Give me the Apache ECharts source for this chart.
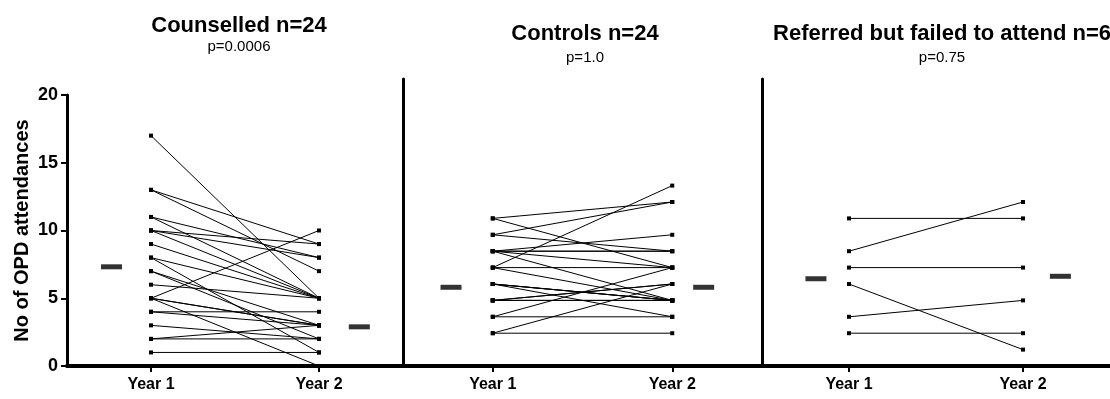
<!DOCTYPE html>
<html>
<head>
<meta charset="utf-8">
<script src="https://cdn.jsdelivr.net/npm/echarts@6/dist/echarts.min.js"></script>
<style>
  html, body { margin: 0; padding: 0; background: #fff; }
  #chart { width: 1110px; height: 399px; }
</style>
</head>
<body>
<div id="chart"></div>
<script>
// Paired attendance counts, one entry per patient (Year 1 -> Year 2)
const yearLabels = ['Year 1', 'Year 2'];
const panelTitles = ['Counselled n=24', 'Controls n=24', 'Referred but failed to attend n=6'];
const panelPValues = ['p=0.0006', 'p=1.0', 'p=0.75'];
const yAxisName = 'No of OPD attendances';
const yTickValues = [0, 5, 10, 15, 20];

const counselledYear1 = [17, 13, 13, 11, 11, 10, 10, 10, 9, 8, 8, 7, 7, 6, 5, 5, 5, 5, 4, 4, 3, 2, 2, 1];
const counselledYear2 = [5, 9, 7, 8, 5, 9, 8, 5, 5, 5, 1, 3, 2, 5, 10, 3, 3, 0, 4, 3, 2, 3, 2, 1];

const controlsYear1 = [9, 9, 8, 8, 7, 7, 7, 7, 7, 6, 6, 6, 5, 5, 5, 5, 4, 4, 4, 4, 3, 3, 2, 2];
const controlsYear2 = [10, 6, 10, 7, 8, 7, 7, 6, 4, 11, 6, 4, 4, 4, 4, 3, 5, 5, 4, 4, 6, 3, 5, 2];

const referredYear1 = [9, 7, 6, 5, 3, 2];
const referredYear2 = [9, 10, 6, 1, 4, 2];

// Group centre values shown as short bars beside each column
const centreYear1 = [7.32, 4.8, 5.32];
const centreYear2 = [2.89, 4.8, 5.47];

const panels = [
  { y1: counselledYear1, y2: counselledYear2 },
  { y1: controlsYear1, y2: controlsYear2 },
  { y1: referredYear1, y2: referredYear2 }
];

// Layout of the three panels
const grids = [
  { left: 67, top: 95, width: 336, bottom: 33 },
  { left: 403, top: 79, width: 359, bottom: 33 },
  { left: 762, top: 79, width: 348, bottom: 33 }
];
const yMax = [20, 17.5, 17.5];
const xYear = [1, 3];
const centreX = [[0.53, 3.48], [0.535, 3.35], [0.62, 3.43]];
const titlePos = [{ x: 234, top: 10, gap: 2 }, { x: 580, top: 18, gap: 5 }, { x: 937, top: 18, gap: 5 }];

const FONT = '"Liberation Sans", Arial, sans-serif';

const xAxes = grids.map((g, i) => ({
  type: 'value', gridIndex: i, min: 0, max: 4,
  axisLine: { show: true, onZero: false, lineStyle: { color: '#000', width: 4 } },
  axisTick: { show: true, customValues: xYear, length: 6, lineStyle: { color: '#000', width: 2 } },
  axisLabel: {
    show: true, customValues: xYear, margin: 11,
    formatter: v => (v === xYear[0] ? yearLabels[0] : yearLabels[1]),
    color: '#000', fontFamily: FONT, fontWeight: 'bold', fontSize: 16
  },
  splitLine: { show: false }
}));

const yAxes = grids.map((g, i) => {
  const base = {
    type: 'value', gridIndex: i, min: 0, max: yMax[i],
    axisLine: { show: true, lineStyle: { color: '#000', width: 3 } },
    splitLine: { show: false }
  };
  if (i === 0) {
    return Object.assign(base, {
      interval: 5,
      axisTick: { show: true, length: 6, lineStyle: { color: '#000', width: 2 } },
      axisLabel: {
        show: true, margin: 9, color: '#000', fontFamily: FONT, fontWeight: 'bold', fontSize: 18,
        formatter: v => (yTickValues.indexOf(v) >= 0 ? String(v) : '')
      },
      name: yAxisName, nameLocation: 'middle', nameRotate: 90, nameGap: 35,
      nameTextStyle: { color: '#000', fontFamily: FONT, fontWeight: 'bold', fontSize: 20 }
    });
  }
  return Object.assign(base, { axisTick: { show: false }, axisLabel: { show: false } });
});

const series = [];
panels.forEach((p, i) => {
  p.y1.forEach((v1, k) => {
    series.push({
      type: 'line', xAxisIndex: i, yAxisIndex: i,
      data: [[xYear[0], v1], [xYear[1], p.y2[k]]],
      symbol: 'rect', symbolSize: 4, showSymbol: true,
      itemStyle: { color: '#000' },
      lineStyle: { color: '#000', width: 1 },
      silent: true, animation: false, clip: false
    });
  });
  series.push({
    type: 'scatter', xAxisIndex: i, yAxisIndex: i,
    data: [[centreX[i][0], centreYear1[i]], [centreX[i][1], centreYear2[i]]],
    symbol: 'rect', symbolSize: [21, 5],
    itemStyle: { color: '#000' }, silent: true, animation: false, z: 5
  });
});

const titles = panelTitles.map((t, i) => ({
  text: t, subtext: panelPValues[i],
  left: titlePos[i].x, top: titlePos[i].top, textAlign: 'center', itemGap: titlePos[i].gap,
  textStyle: { color: '#000', fontFamily: FONT, fontWeight: 'bold', fontSize: 22 },
  subtextStyle: { color: '#000', fontFamily: FONT, fontSize: 15 }
}));

const chart = echarts.init(document.getElementById('chart'), null, { renderer: 'canvas' });
chart.setOption({
  backgroundColor: '#fff',
  animation: false,
  title: titles,
  grid: grids,
  xAxis: xAxes,
  yAxis: yAxes,
  series: series
});
</script>
</body>
</html>
